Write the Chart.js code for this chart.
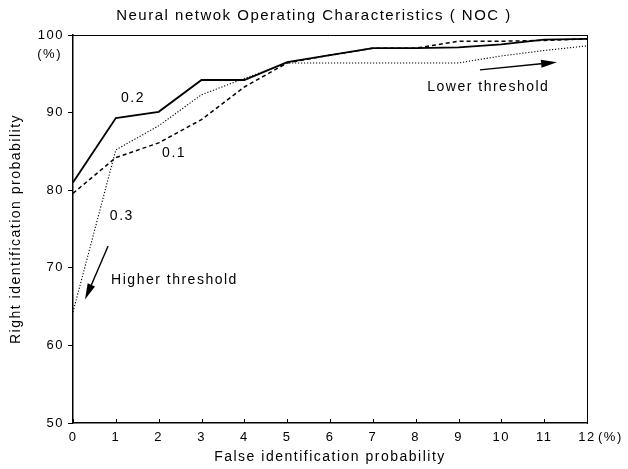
<!DOCTYPE html>
<html>
<head>
<meta charset="utf-8">
<title>Neural network Operating Characteristics</title>
<script src="https://cdn.jsdelivr.net/npm/chart.js@4.4.1/dist/chart.umd.min.js"></script>
<style>
  html, body { margin: 0; padding: 0; background: #fff; }
  #wrap { width: 628px; height: 469px; }
</style>
</head>
<body>
<div id="wrap"><canvas id="noc" width="628" height="469"></canvas></div>
<script>
// False identification probability (%), one point per percent
const falseRates = [0, 1, 2, 3, 4, 5, 6, 7, 8, 9, 10, 11, 12];
// Right identification probability (%) for each network threshold
const curve02 = [81.0, 89.3, 90.1, 94.2, 94.2, 96.5, 97.4, 98.3, 98.3, 98.4, 98.8, 99.4, 99.5];
const curve01 = [79.6, 84.2, 86.1, 89.1, 93.3, 96.4, 97.4, 98.3, 98.3, 99.2, 99.2, 99.3, 99.5];
const curve03 = [64.3, 85.2, 88.3, 92.3, 94.4, 96.4, 96.4, 96.4, 96.4, 96.4, 97.3, 98.0, 98.6];
const xTicks = [0, 1, 2, 3, 4, 5, 6, 7, 8, 9, 10, 11, 12];
const yTicks = [50, 60, 70, 80, 90, 100];

// text written on the plot, placed in data units
const notes = [
  { text: "0.2", x: 1.40, y: 91.9, align: "center" },
  { text: "0.1", x: 2.36, y: 84.8, align: "center" },
  { text: "0.3", x: 1.14, y: 76.7, align: "center" },
  { text: "Higher threshold", x: 0.89, y: 68.4, align: "left" },
  { text: "Lower threshold", x: 8.27, y: 93.3, align: "left" },
];
const arrows = [
  { from: [0.82, 72.8], to: [0.28, 65.9] },
  { from: [9.50, 95.5], to: [11.3, 96.5] },
];

const FONT = "'Liberation Sans', Arial, Helvetica, sans-serif";
Chart.defaults.font.family = FONT;
Chart.defaults.color = "#000";

const pts = ys => falseRates.map((x, i) => ({ x: x, y: ys[i] }));

// the scanned lettering is rather wide, so space the letters a bit
const wideText = {
  id: "wideText",
  beforeUpdate(chart) { chart.ctx.letterSpacing = "1.5px"; },
  beforeDraw(chart) { chart.ctx.letterSpacing = "1.5px"; },
};

const notesPlugin = {
  id: "notes",
  afterDatasetsDraw(chart) {
    const { ctx, chartArea } = chart;
    const x = chart.scales.x, y = chart.scales.y;
    ctx.save();
    ctx.fillStyle = "#000";
    ctx.strokeStyle = "#000";

    // x ticks point into the plot
    ctx.lineWidth = 1;
    x.ticks.forEach(t => {
      const px = Math.round(x.getPixelForValue(t.value)) + 0.5;
      ctx.beginPath();
      ctx.moveTo(px, chartArea.bottom);
      ctx.lineTo(px, chartArea.bottom - 4);
      ctx.stroke();
    });

    ctx.font = "14px " + FONT;
    ctx.textBaseline = "middle";
    notes.forEach(n => {
      ctx.textAlign = n.align;
      ctx.fillText(n.text, x.getPixelForValue(n.x), y.getPixelForValue(n.y));
    });

    arrows.forEach(a => {
      const x0 = x.getPixelForValue(a.from[0]), y0 = y.getPixelForValue(a.from[1]);
      const x1 = x.getPixelForValue(a.to[0]), y1 = y.getPixelForValue(a.to[1]);
      const ang = Math.atan2(y1 - y0, x1 - x0);
      const len = 16, half = 4;
      const bx = x1 - len * Math.cos(ang), by = y1 - len * Math.sin(ang);
      ctx.lineWidth = 1.4;
      ctx.beginPath();
      ctx.moveTo(x0, y0);
      ctx.lineTo(bx, by);
      ctx.stroke();
      ctx.beginPath();
      ctx.moveTo(x1, y1);
      ctx.lineTo(bx + half * Math.sin(ang), by - half * Math.cos(ang));
      ctx.lineTo(bx - half * Math.sin(ang), by + half * Math.cos(ang));
      ctx.closePath();
      ctx.fill();
    });

    // unit marks next to the end ticks
    ctx.font = "13px " + FONT;
    ctx.textAlign = "right";
    ctx.fillText("(%)", chartArea.left - 11, y.getPixelForValue(100) + 19);
    ctx.textAlign = "left";
    ctx.fillText("(%)", x.getPixelForValue(12) + 11, chartArea.bottom + 14);
    ctx.restore();
  },
};

const ctx = document.getElementById("noc").getContext("2d");

new Chart(ctx, {
  type: "line",
  data: {
    datasets: [
      {
        label: "0.2",
        data: pts(curve02),
        borderColor: "#000",
        borderWidth: 1.8,
      },
      {
        label: "0.1",
        data: pts(curve01),
        borderColor: "#000",
        borderWidth: 1.5,
        borderDash: [4, 3],
      },
      {
        label: "0.3",
        data: pts(curve03),
        borderColor: "#000",
        borderWidth: 1.1,
        borderDash: [1.2, 1.8],
      },
    ],
  },
  options: {
    responsive: false,
    animation: false,
    events: [],
    elements: {
      point: { radius: 0 },
      line: { tension: 0, fill: false },
    },
    layout: { padding: 0 },
    plugins: {
      legend: { display: false },
      tooltip: { enabled: false },
      title: {
        display: true,
        text: "Neural netwok Operating Characteristics ( NOC )",
        color: "#000",
        font: { size: 15, weight: "normal", family: FONT },
        padding: { top: 7, bottom: 10 },
      },
    },
    scales: {
      x: {
        type: "linear",
        position: "bottom",
        min: 0,
        max: 12,
        afterBuildTicks(s) { s.ticks = xTicks.map(v => ({ value: v })); },
        ticks: { color: "#000", font: { size: 13 }, padding: 7, maxRotation: 0 },
        grid: { display: false, drawTicks: false },
        border: { display: true, color: "#000", width: 1.5 },
        title: {
          display: true,
          text: "False identification probability",
          color: "#000",
          font: { size: 14 },
          padding: { top: 0, bottom: 3 },
        },
        afterFit(s) { s.height = 46; },
      },
      y: {
        type: "linear",
        position: "left",
        min: 50,
        max: 100,
        afterBuildTicks(s) { s.ticks = yTicks.map(v => ({ value: v })); },
        ticks: { color: "#000", font: { size: 13 }, padding: 4 },
        grid: { drawOnChartArea: false, tickLength: 5, color: "#000", lineWidth: 1 },
        border: { display: true, color: "#000", width: 1.5 },
        title: {
          display: true,
          text: "Right identification probability",
          color: "#000",
          font: { size: 14 },
          padding: { top: 8, bottom: 0 },
        },
        afterFit(s) { s.width = 73; },
      },
      // right and top edges of the frame
      y2: {
        type: "linear",
        position: "right",
        min: 0,
        max: 1,
        ticks: { display: false },
        grid: { display: false, drawTicks: false },
        border: { display: true, color: "#000", width: 1 },
        afterFit(s) { s.width = 41; },
      },
      x2: {
        type: "linear",
        position: "top",
        min: 0,
        max: 1,
        ticks: { display: false },
        grid: { display: false, drawTicks: false },
        border: { display: true, color: "#000", width: 1 },
        afterFit(s) { s.height = 0; },
      },
    },
  },
  plugins: [wideText, notesPlugin],
});
</script>
</body>
</html>
